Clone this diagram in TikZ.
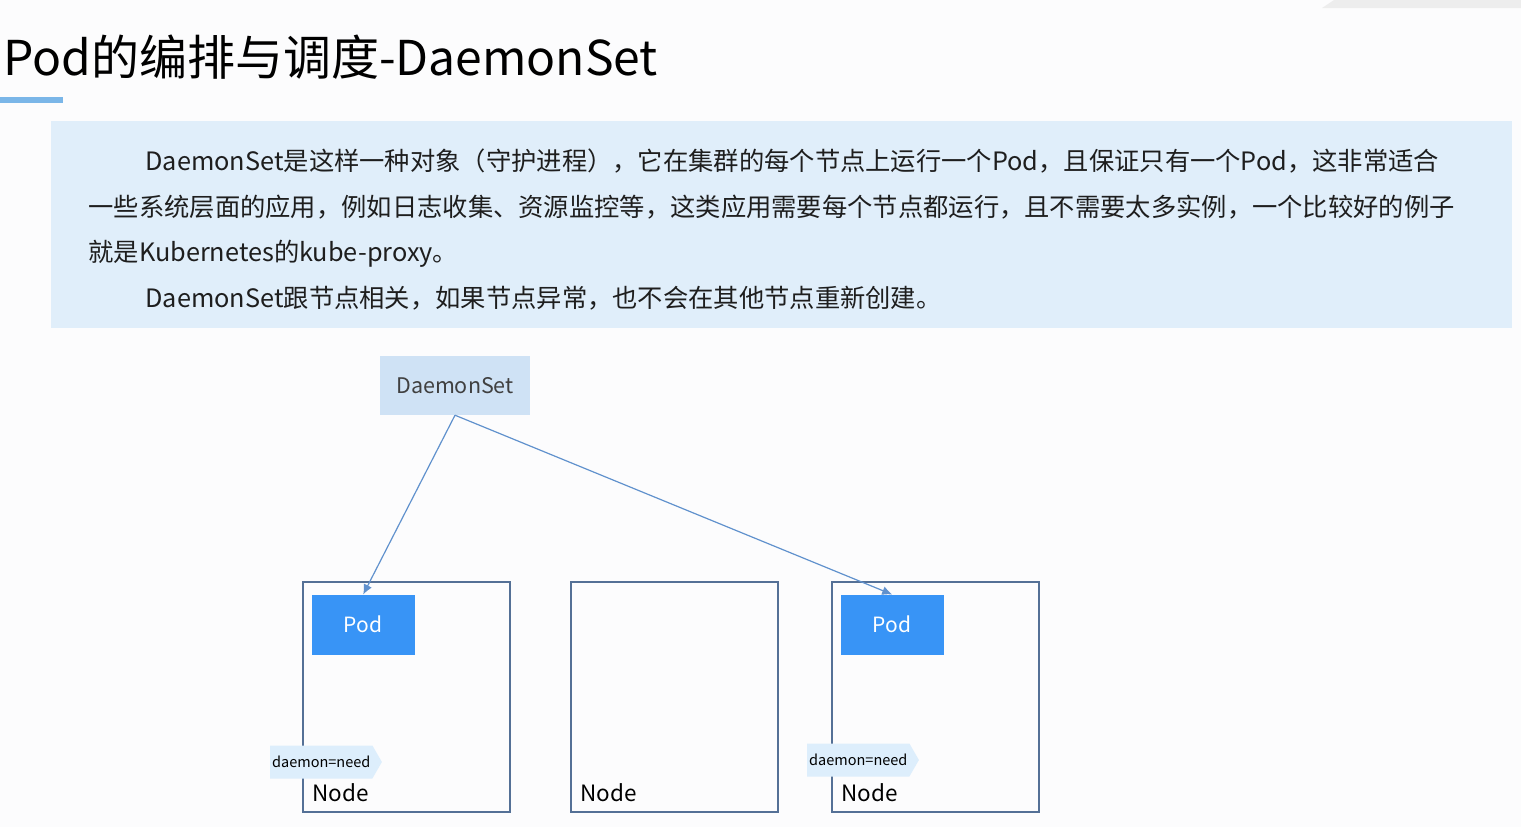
\documentclass[tikz,border=0pt]{standalone}
\usepackage{fontspec}
\setmainfont{Noto Sans CJK SC}
\usetikzlibrary{shapes.symbols,arrows.meta}
\definecolor{pagebg}{RGB}{252,252,253}
\definecolor{panelblue}{RGB}{224,238,250}
\definecolor{dsblue}{RGB}{207,226,245}
\definecolor{podblue}{RGB}{56,148,246}
\definecolor{nodeedge}{RGB}{84,112,150}
\definecolor{linkblue}{RGB}{96,145,205}
\definecolor{tagblue}{RGB}{221,238,252}
\definecolor{titlebar}{RGB}{122,182,232}
\definecolor{bodytext}{RGB}{30,30,30}

\begin{document}
\begin{tikzpicture}[x=1pt,y=-1pt,>={Latex[length=10pt,width=9pt]},
  nodebox/.style={draw=nodeedge,line width=2pt,minimum width=207pt,minimum height=230pt,inner sep=0pt},
  podbox/.style={fill=podblue,text=white,minimum width=103pt,minimum height=60pt,inner sep=0pt,font=\fontsize{21}{21}\selectfont},
  tagbox/.style={shape=signal,signal to=east,signal pointer angle=120,fill=tagblue,minimum height=33pt,inner xsep=2pt,font=\fontsize{14.5}{14.5}\selectfont},
  line/.style={anchor=base west,text=bodytext,font=\fontsize{25.3}{25.3}\selectfont},
  link/.style={draw=linkblue,line width=1.2pt,->}]
 \useasboundingbox (0,0) rectangle (1521,827);
 \fill[pagebg] (0,0) rectangle (1521,827);
 \fill[black!7] (1322,8) -- (1334,0) -- (1521,0) -- (1521,8) -- cycle;
 % title
 \node[anchor=base west,inner sep=0pt,font=\fontsize{48}{48}\selectfont] (title) at (3,75) {Pod的编排与调度-DaemonSet};
 \fill[titlebar] (0,97) rectangle (63,103);
 % intro panel
 \fill[panelblue] (51,121) rectangle (1512,328);
 \node[line] (txt1) at (142,170) {DaemonSet是这样一种对象（守护进程），它在集群的每个节点上运行一个Pod，且保证只有一个Pod，这非常适合};
 \node[line] (txt2) at (85,216) {一些系统层面的应用，例如日志收集、资源监控等，这类应用需要每个节点都运行，且不需要太多实例，一个比较好的例子};
 \node[line] (txt3) at (85,261) {就是Kubernetes的kube-proxy。};
 \node[line] (txt4) at (142,307) {DaemonSet跟节点相关，如果节点异常，也不会在其他节点重新创建。};
 % nodes
 \node[fill=dsblue,text=black!75,minimum width=150pt,minimum height=59pt,font=\fontsize{21.5}{21.5}\selectfont] (ds) at (455,385.5) {DaemonSet};
 \foreach \i/\x in {1/406,2/674.5,3/935}{
  \node[nodebox] (n\i) at (\x,696.5) {};
  \node[anchor=base west,inner sep=0pt,font=\fontsize{22.5}{22.5}\selectfont] (l\i) at ([xshift=10.5pt,yshift=11pt]n\i.south west) {Node};
 }
 \node[podbox,anchor=north west] (p1) at ([xshift=10pt,yshift=-14pt]n1.north west) {Pod};
 \node[podbox,anchor=north west] (p3) at ([xshift=10pt,yshift=-14pt]n3.north west) {Pod};
 \node[tagbox,anchor=west] (t1) at (270,762) {daemon=need};
 \node[tagbox,anchor=west] (t3) at (807,760) {daemon=need};
 \draw[link] (ds.south) -- (p1.north);
 \draw[link] (ds.south) -- (p3.north);
\end{tikzpicture}
\end{document}
